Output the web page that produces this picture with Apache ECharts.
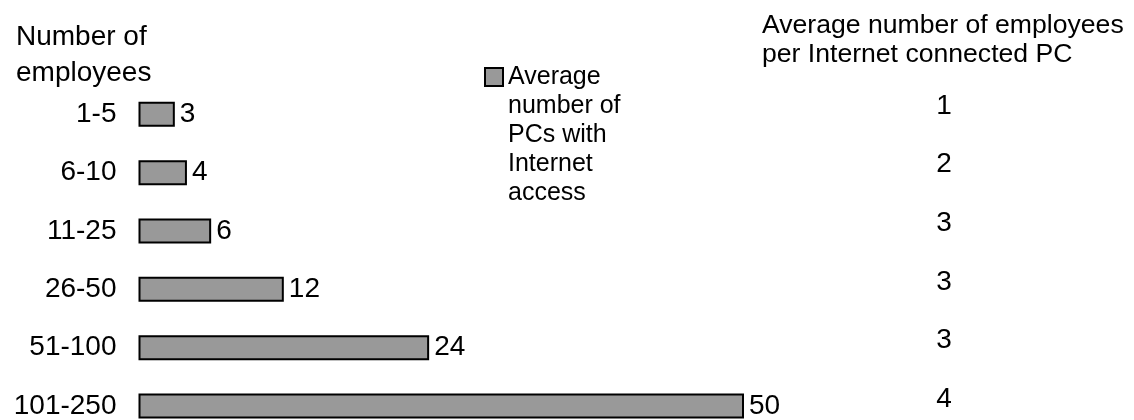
<!DOCTYPE html>
<html>
<head>
<meta charset="utf-8">
<script src="https://cdn.jsdelivr.net/npm/echarts@6/dist/echarts.min.js"></script>
<style>
  html, body { margin: 0; padding: 0; background: #fff; }
  #chart { width: 1134px; height: 420px; }
</style>
</head>
<body>
<div id="chart"></div>
<script>
// Company size bands (number of employees)
const categories = ['1-5', '6-10', '11-25', '26-50', '51-100', '101-250'];
// Average number of PCs with Internet access per band
const pcsWithInternet = [3, 4, 6, 12, 24, 50];
// Average number of employees per Internet connected PC
const employeesPerPC = [1, 2, 3, 3, 3, 4];

const FONT = '"Liberation Sans", Arial, Helvetica, sans-serif';
const seriesName = 'Average number of PCs with Internet access';

const chart = echarts.init(document.getElementById('chart'), null, { renderer: 'canvas' });

chart.setOption({
  backgroundColor: '#ffffff',
  animation: false,
  textStyle: { fontFamily: FONT, color: '#000' },
  title: [
    {
      text: 'Number of\nemployees',
      left: 11, top: 14,
      textStyle: { fontFamily: FONT, fontSize: 28, fontWeight: 'normal', color: '#000', lineHeight: 36 }
    },
    {
      text: 'Average number of employees\nper Internet connected PC',
      left: 757, top: 6,
      textStyle: { fontFamily: FONT, fontSize: 26.6, fontWeight: 'normal', color: '#000', lineHeight: 29 }
    }
  ],
  legend: {
    data: [seriesName],
    left: 484, top: -53.5,
    orient: 'vertical',
    itemWidth: 18, itemHeight: 18,
    icon: 'rect',
    padding: 0,
    // blank leading lines keep the swatch level with the first text line
    formatter: () => '\n\n\n\nAverage\nnumber of\nPCs with\nInternet\naccess',
    itemStyle: { color: '#999999', borderColor: '#000', borderWidth: 2 },
    textStyle: { fontFamily: FONT, fontSize: 25, color: '#000', lineHeight: 29 }
  },
  grid: [
    { left: 138.5, top: 85.2, width: 605.5, height: 350, outerBoundsMode: 'none', containLabel: false },
    { left: 900, top: 76.7, width: 88, height: 351.6, outerBoundsMode: 'none', containLabel: false }
  ],
  xAxis: [
    { gridIndex: 0, type: 'value', min: 0, max: 50, show: false },
    { gridIndex: 1, type: 'value', min: 0, max: 1, show: false }
  ],
  yAxis: [
    {
      gridIndex: 0, type: 'category', data: categories, inverse: true,
      axisLine: { show: false }, axisTick: { show: false }, splitLine: { show: false },
      axisLabel: { margin: 22, fontFamily: FONT, fontSize: 28, color: '#000' }
    },
    {
      gridIndex: 1, type: 'category', data: categories, inverse: true, show: false
    }
  ],
  series: [
    {
      name: seriesName,
      type: 'bar',
      xAxisIndex: 0, yAxisIndex: 0,
      data: pcsWithInternet,
      barWidth: 25,
      itemStyle: { color: '#999999', borderColor: '#000', borderWidth: 2 },
      label: {
        show: true, position: 'right', distance: 5,
        fontFamily: FONT, fontSize: 28, color: '#000'
      }
    },
    {
      name: 'Average number of employees per Internet connected PC',
      type: 'scatter',
      xAxisIndex: 1, yAxisIndex: 1,
      symbolSize: 0,
      itemStyle: { opacity: 1 },
      data: employeesPerPC.map((v, i) => [0.5, categories[i], v]),
      label: {
        show: true, position: 'inside',
        formatter: p => String(p.value[2]),
        fontFamily: FONT, fontSize: 28, color: '#000'
      }
    }
  ]
});
</script>
</body>
</html>
